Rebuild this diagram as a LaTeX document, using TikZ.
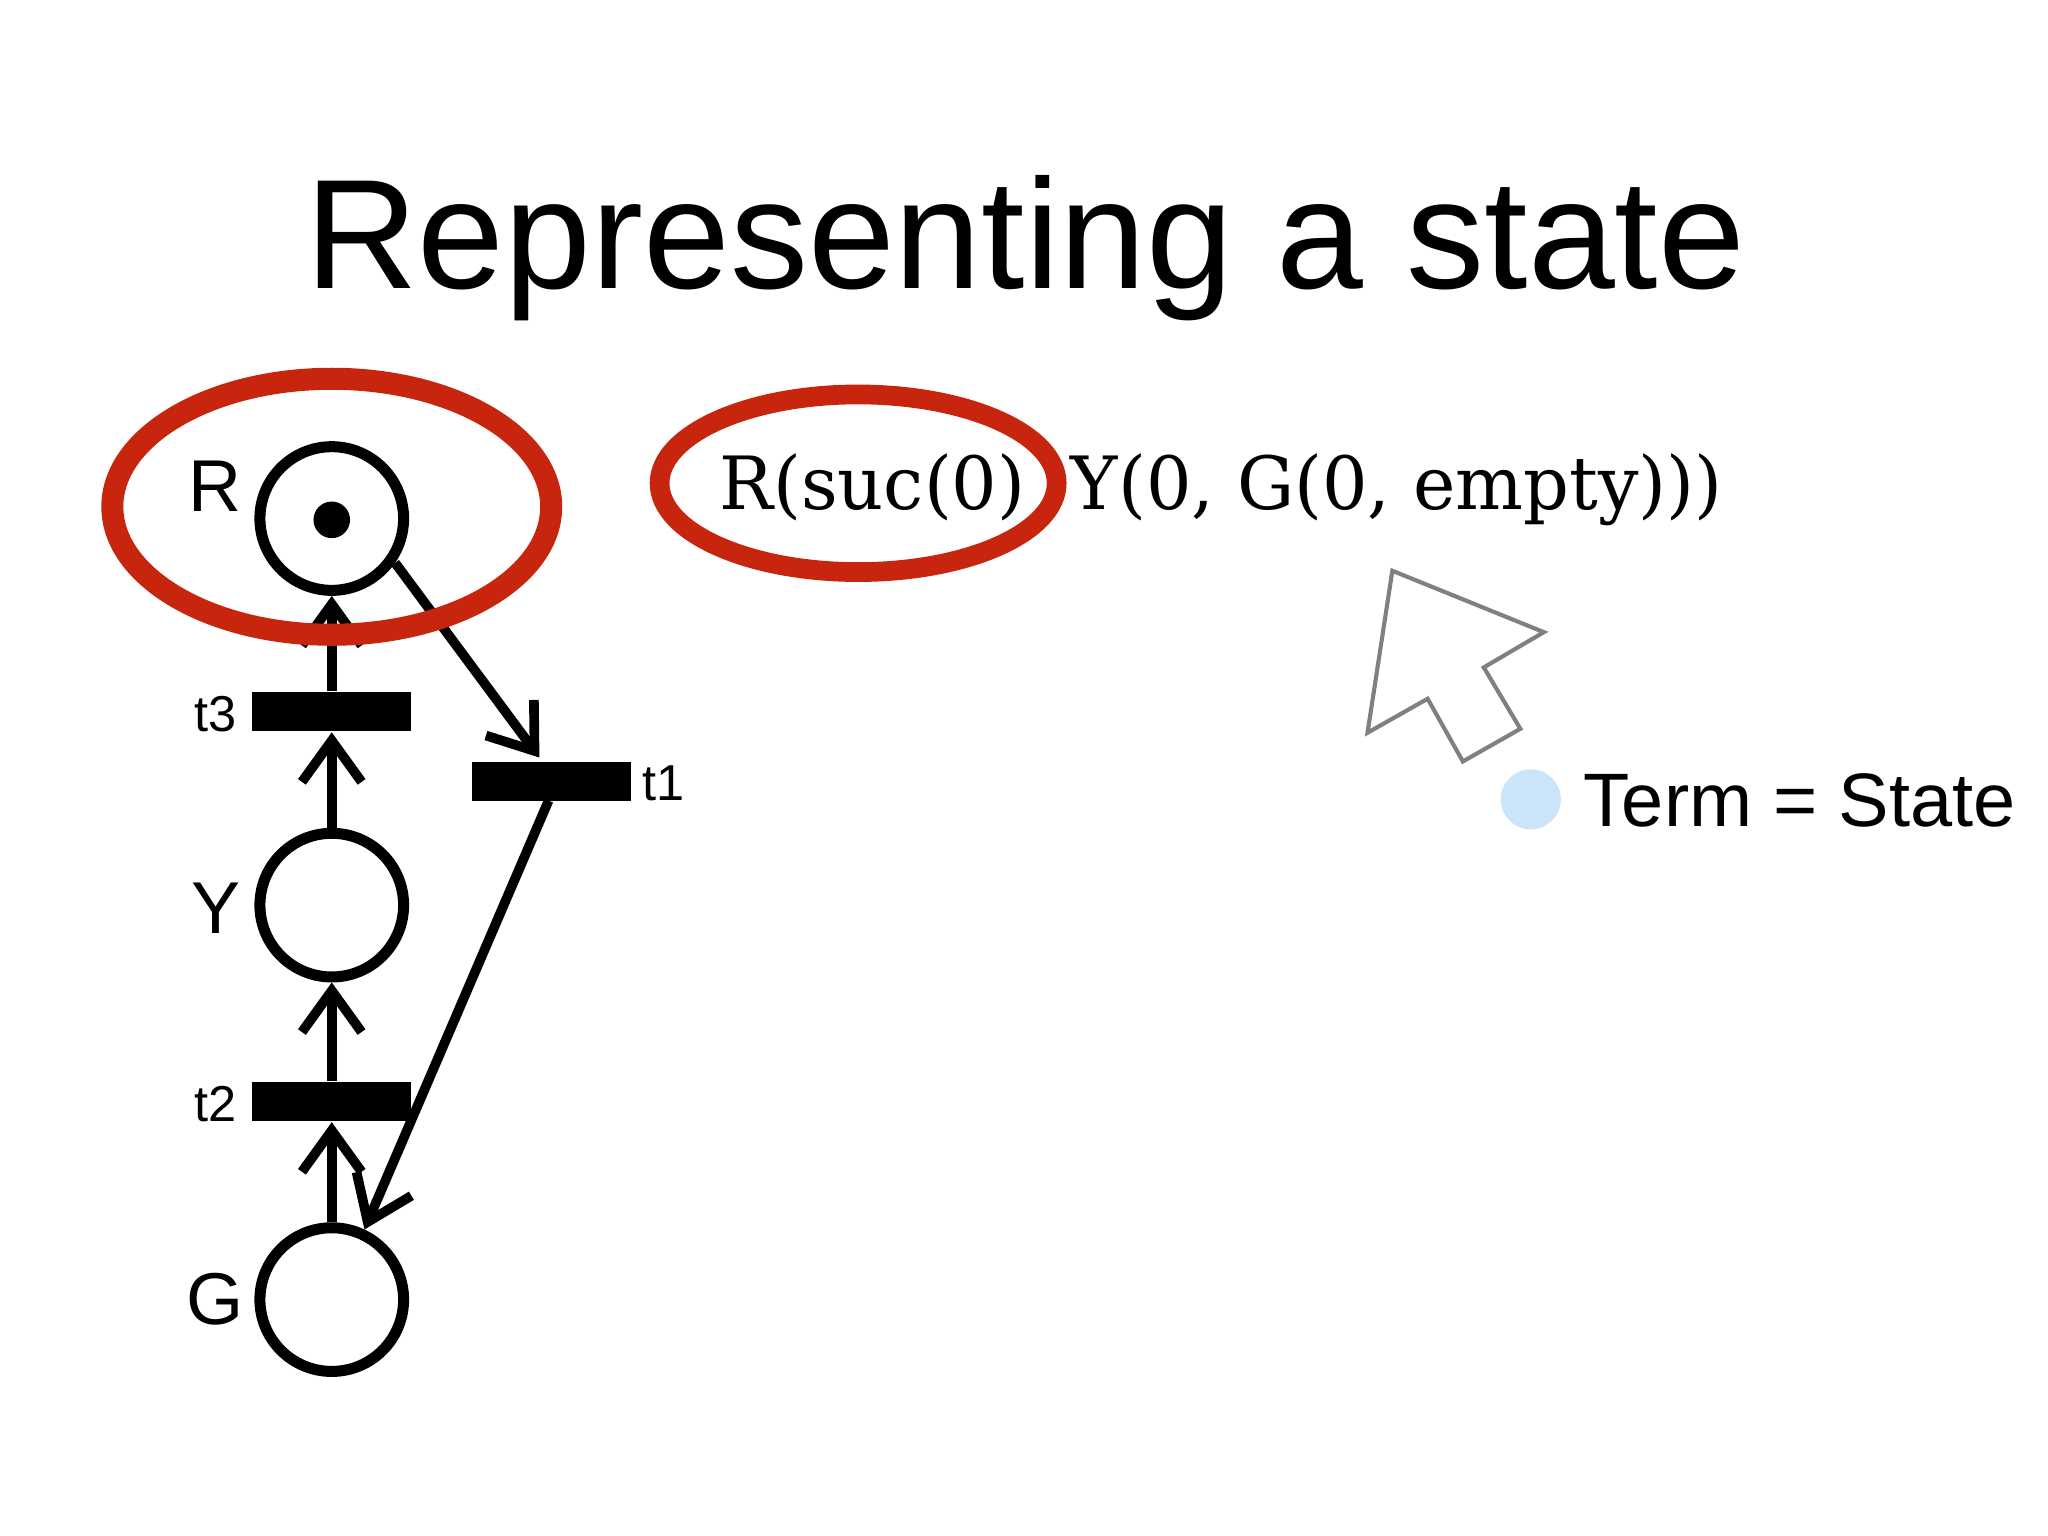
\documentclass[tikz,border=0pt]{standalone}
\usepackage{fontspec}
\setmainfont{Liberation Sans}
\newfontfamily\termfont{DejaVu Serif}
\usetikzlibrary{arrows.meta}
\definecolor{hred}{HTML}{C8250F}
\definecolor{bulletblue}{HTML}{CCE4F8}
\tikzset{
 place/.style={circle,draw,line width=2.4pt,minimum size=1.1cm,inner sep=0pt},
 trans/.style={fill=black,minimum width=1.22cm,minimum height=0.3cm,inner sep=0pt},
 arc/.style={line width=2.1pt,-{Straight Barb[length=9pt,width=13pt,line width=2.1pt]}},
 lab/.style={font=\fontsize{16}{16}\selectfont},
 tlab/.style={font=\fontsize{11}{11}\selectfont},
 hl/.style={draw=hred,line width=4.8pt}
}
\begin{document}
\begin{tikzpicture}[x=1cm,y=1cm]
\useasboundingbox (0,0) rectangle (15.68,-11.76);
\node at (7.85,-1.90) {\fontsize{34}{34}\selectfont Representing a state};
\node[place] (R) at (2.54,-3.97) {};
\fill (2.54,-3.98) circle (0.14);
\node[place] (Y) at (2.54,-6.93) {};
\node[place] (G) at (2.54,-9.95) {};
\node[lab] at (1.65,-3.72) {R};
\node[lab] at (1.65,-6.95) {Y};
\node[lab] at (1.65,-9.95) {G};
\node[trans] (t3) at (2.54,-5.45) {};
\node[trans] (t1) at (4.22,-5.985) {};
\node[trans] (t2) at (2.54,-8.435) {};
\node[tlab] at (1.65,-5.47) {t3};
\node[tlab] at (5.08,-6.0) {t1};
\node[tlab] at (1.65,-8.45) {t2};
\draw[arc] (Y.north) -- (t3.south);
\draw[arc] (t3.north) -- (R.south);
\draw[arc] (G.north) -- (t2.south);
\draw[arc] (t2.north) -- (Y.south);
\coordinate (t1in) at (4.13,-5.80);
\coordinate (t1out) at (4.20,-6.13);
\draw[arc] (R.-35) -- (t1in);
\draw[arc] (t1out) -- (G.65);
\draw[hl] (2.54,-3.88) ellipse (1.68 and 0.98);
\node[anchor=west,inner sep=0pt] (term) at (5.50,-3.75) {\resizebox{7.68cm}{\height}{\termfont\fontsize{16}{16}\selectfont R(suc(0)\ \ Y(0, G(0, empty)))}};
\draw[hl,line width=4.3pt] (6.57,-3.70) ellipse (1.52 and 0.68);
\draw[gray,line width=0.9pt,line join=miter] (10.66,-4.37) -- (11.82,-4.84) -- (11.36,-5.11) -- (11.64,-5.58) -- (11.20,-5.83) -- (10.93,-5.35) -- (10.47,-5.61) -- cycle;
\fill[bulletblue] (11.72,-6.12) circle (0.23);
\node[anchor=west,inner sep=0pt] at (12.12,-6.13) {\fontsize{16.5}{16.5}\selectfont Term = State};
\end{tikzpicture}
\end{document}
